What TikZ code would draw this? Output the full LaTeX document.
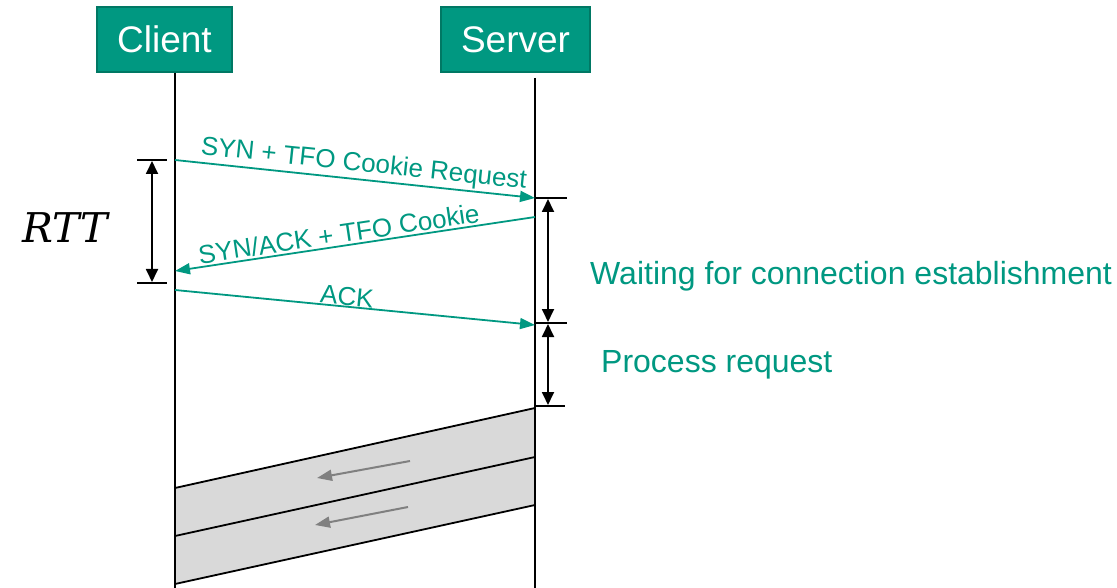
\documentclass[tikz,border=0pt]{standalone}
\usepackage{fontspec}
\setmainfont{Liberation Sans}
\newfontfamily\rttfont{DejaVu Serif}
\usetikzlibrary{arrows.meta}
\definecolor{teal1}{RGB}{0,152,129}
\definecolor{tealdark}{RGB}{0,120,100}
\definecolor{band}{RGB}{217,217,217}
\definecolor{arrgray}{RGB}{128,128,128}
\tikzset{
  actor/.style={draw=tealdark, line width=1.5pt, fill=teal1, text=white, minimum height=65pt, font=\fontsize{37}{37}\selectfont, inner sep=0pt},
  life/.style={line width=1.8pt, black},
  msg/.style={teal1, line width=1.8pt, -{Triangle[length=15pt,width=11pt]}},
  msglabel/.style={teal1, font=\fontsize{26}{26}\selectfont, inner sep=0pt},
  tick/.style={line width=1.8pt, black},
  span/.style={line width=1.8pt, black, {Triangle[length=13pt,width=12pt]}-{Triangle[length=13pt,width=12pt]}},
  note/.style={teal1, font=\fontsize{32}{32}\selectfont, anchor=west, inner sep=0pt},
  bandline/.style={line width=1.8pt, black},
  garrow/.style={arrgray, line width=2pt, -{Triangle[length=15pt,width=11pt]}}
}
\begin{document}
\begin{tikzpicture}[x=1pt,y=-1pt]
\useasboundingbox (0,0) rectangle (1117,588);
% actors
\node[actor, minimum width=135pt] (client) at (164.5,39.5) {Client};
\node[actor, minimum width=149pt] (server) at (515.5,39.5) {Server};
% lifeline coordinates
\coordinate (cbot) at (175,588);
\coordinate (stop) at (535,78);
\coordinate (sbot) at (535,588);
\coordinate (c1) at (175,160);
\coordinate (s1) at (535,198);
\coordinate (s2) at (535,217);
\coordinate (c2) at (175,271);
\coordinate (c3) at (175,290);
\coordinate (s3) at (535,325);
% band coordinates
\coordinate (bs1) at (535,408);
\coordinate (bc1) at (175,488);
\coordinate (bs2) at (535,457);
\coordinate (bc2) at (175,536);
\coordinate (bs3) at (535,505);
\coordinate (bc3) at (175,584);
% bands
\fill[band] (bs1) -- (bc1) -- (bc3) -- (bs3) -- cycle;
\draw[bandline] (bs1) -- (bc1);
\draw[bandline] (bs2) -- (bc2);
\draw[bandline] (bs3) -- (bc3);
% lifelines
\draw[life] (client.south -| cbot) -- (cbot);
\draw[life] (stop) -- (sbot);
% messages
\draw[msg] (c1) -- (s1) node[msglabel, pos=0.52, above=2pt, sloped] (l1) {SYN + TFO Cookie Request};
\draw[msg] (s2) -- (c2) node[msglabel, pos=0.54, above=2pt, sloped] (l2) {SYN/ACK + TFO Cookie};
\draw[msg] (c3) -- (s3) node[msglabel, pos=0.475, above=0pt, sloped] (l3) {ACK};
% RTT
\coordinate (t1l) at (137,160); \coordinate (t1r) at (167,160);
\coordinate (t2l) at (137,283); \coordinate (t2r) at (167,283);
\draw[tick] (t1l) -- (t1r);
\draw[tick] (t2l) -- (t2r);
\coordinate (r1) at (152,161); \coordinate (r2) at (152,282);
\draw[span] (r1) -- (r2);
\node[font=\rttfont\itshape\fontsize{41}{41}\selectfont, inner sep=0pt] (rtt) at (65,228) {RTT};
% server spans
\coordinate (u1l) at (535,198); \coordinate (u1r) at (567,198);
\coordinate (u2l) at (535,323); \coordinate (u2r) at (567,323);
\coordinate (u3l) at (535,406); \coordinate (u3r) at (565,406);
\draw[tick] (u1l) -- (u1r);
\draw[tick] (u2l) -- (u2r);
\draw[tick] (u3l) -- (u3r);
\coordinate (w1) at (548,199); \coordinate (w2) at (548,322);
\coordinate (w3) at (548,324); \coordinate (w4) at (548,405);
\draw[span] (w1) -- (w2);
\draw[span] (w3) -- (w4);
\node[note] (wait) at (590,276) {Waiting for connection establishment};
\node[note] (proc) at (601,365) {Process request};
% gray arrows
\coordinate (g1a) at (410,461); \coordinate (g1b) at (317,478);
\coordinate (g2a) at (408,507); \coordinate (g2b) at (315,525);
\draw[garrow] (g1a) -- (g1b);
\draw[garrow] (g2a) -- (g2b);
\end{tikzpicture}
\end{document}
